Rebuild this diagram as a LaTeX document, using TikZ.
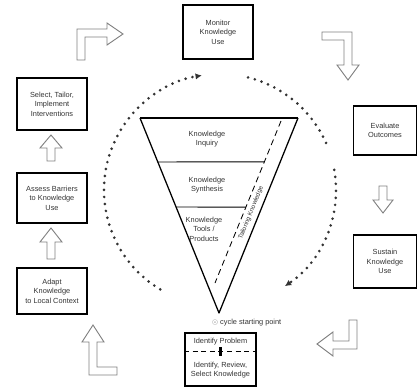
\documentclass[tikz,border=0pt]{standalone}
\usepackage{fontspec}
\setmainfont{Liberation Sans}
\usetikzlibrary{positioning, calc, arrows.meta}

\begin{document}
\begin{tikzpicture}[x=0.05cm, y=-0.05cm,
  stage/.style={draw, line width=2.6pt, align=center, inner sep=0pt, text=black!80,
    font=\fontsize{10.5}{13.5}\selectfont},
  label node/.style={align=center, inner sep=0pt, text=black!80, font=\fontsize{10.5}{13.5}\selectfont},
  funnel/.style={line width=1.8pt, line join=round},
  block arrow/.style={draw=black!50, line width=1.3pt, fill=white},
  cycle dots/.style={line width=4.2pt, line cap=round, dash pattern=on 0pt off 10pt, black!80}]

\useasboundingbox (0,0) rectangle (418,387);

% action cycle boxes
\node[stage, minimum width=3.5cm, minimum height=2.7cm] (monitor) at (218,32) {Monitor\\Knowledge\\Use};
\node[stage, minimum width=3.5cm, minimum height=2.6cm] (select) at (52,104) {Select, Tailor,\\Implement\\Interventions};
\node[stage, minimum width=3.5cm, minimum height=2.5cm] (assess) at (52,198) {Assess Barriers\\to Knowledge\\Use};
\node[stage, minimum width=3.5cm, minimum height=2.3cm] (adapt) at (52,291) {Adapt\\Knowledge\\to Local Context};
\node[stage, minimum width=3.15cm, minimum height=2.45cm] (evaluate) at (385,130.5) {Evaluate\\Outcomes};
\node[stage, minimum width=3.15cm, minimum height=2.65cm] (sustain) at (385,261.5) {Sustain\\Knowledge\\Use};
\node[stage, minimum width=3.55cm, minimum height=2.65cm] (identify) at (220.5,359.5) {};

\node[label node] (problem) at (220.5,342) {Identify Problem};
\node[label node] (review) at (220.5,370) {Identify, Review,\\Select Knowledge};
\coordinate (dl) at ($(identify.north west)!0.36!(identify.south west)$);
\coordinate (dr) at ($(identify.north east)!0.36!(identify.south east)$);
\draw[line width=1.2pt, dash pattern=on 0.25cm off 0.18cm] (dl) -- (dr);
\node[fill, inner sep=0pt, minimum width=0.15cm, minimum height=0.45cm] (bar) at ($(dl)!0.5!(dr)$) {};

\node[label node, anchor=west] (start) at (212,323) {$\odot$ cycle starting point};

% knowledge funnel
\coordinate (tl) at (140,118);
\coordinate (tr) at (298,118);
\coordinate (tip) at (219,313);
\coordinate (dtop) at (281,121);
\coordinate (dbot) at (215,283);
\draw[funnel] (tl) -- (tip) -- (tr);
\draw[line width=2.8pt] (tl) -- (tr);
\draw[line width=1.2pt, dash pattern=on 0.3cm off 0.2cm] (dtop) -- (dbot);
\draw[line width=1.4pt] ($(tl)!0.2256!(tip)$) -- ($(dtop)!0.253!(dbot)$);
\draw[line width=1.4pt] ($(tl)!0.4564!(tip)$) -- ($(dtop)!0.531!(dbot)$);

\node[label node] (inquiry) at (207,139) {Knowledge\\Inquiry};
\node[label node] (synthesis) at (207,185) {Knowledge\\Synthesis};
\node[label node] (tools) at (204,229) {Knowledge\\Tools /\\Products};
\node[label node, rotate=68, font=\fontsize{9}{11}\selectfont] (tailor) at (251,213) {Tailoring Knowledge};

% dotted cycle
\coordinate (hub) at (220,190);
\draw[cycle dots, -{Latex[length=9pt, width=9pt]}] (hub) ++(121:116) arc[start angle=121, end angle=261, radius=116];
\draw[cycle dots] (hub) ++(-76:116) arc[start angle=-76, end angle=-21, radius=116];
\draw[cycle dots, -{Latex[length=9pt, width=9pt]}] (hub) ++(-10:116) arc[start angle=-10, end angle=56, radius=116];

% block arrows
\draw[block arrow] (77,60) -- (77,29) -- (107,29) -- (107,23) -- (123,34) -- (107,45) -- (107,37) -- (85,37) -- (85,60) -- cycle;
\draw[block arrow] (322,32) -- (352,32) -- (352,65) -- (359,65) -- (348,80) -- (337,65) -- (344,65) -- (344,40) -- (322,40) -- cycle;
\draw[block arrow] (379,186) -- (387,186) -- (387,200) -- (393,200) -- (383,213) -- (373,200) -- (379,200) -- cycle;
\draw[block arrow] (357,320) -- (357,349) -- (333,349) -- (333,356) -- (317,344) -- (333,332) -- (333,341) -- (349,341) -- (349,320) -- cycle;
\draw[block arrow] (93,325) -- (104,342) -- (97,342) -- (97,367) -- (117,367) -- (117,375) -- (89,375) -- (89,342) -- (82,342) -- cycle;
\draw[block arrow] (47,161) -- (47,148) -- (40,148) -- (51,135) -- (62,148) -- (55,148) -- (55,161) -- cycle;
\draw[block arrow] (47,259) -- (47,242) -- (40,242) -- (51,228) -- (62,242) -- (55,242) -- (55,259) -- cycle;

\end{tikzpicture}
\end{document}
